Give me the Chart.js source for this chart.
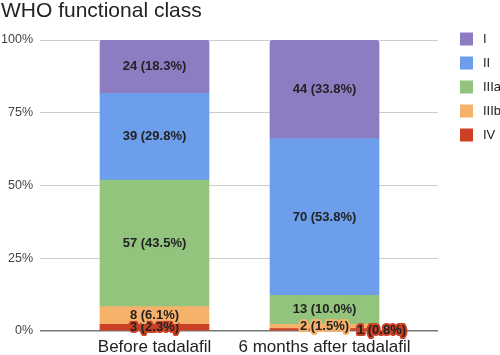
<!DOCTYPE html>
<html>
<head>
<meta charset="utf-8">
<script src="https://cdn.jsdelivr.net/npm/chart.js@4.4.1/dist/chart.umd.min.js"></script>
<style>
  html, body { margin: 0; padding: 0; background: #fff; }
  #wrap { width: 500px; height: 355px; position: relative; }
</style>
</head>
<body>
<div id="wrap"><canvas id="who-chart"></canvas></div>
<script>
/* ---- datos ---- */
const CATEGORIAS = ["Before tadalafil", "6 months after tadalafil"];
const CLASES = ["I", "II", "IIIa", "IIIb", "IV"];
const COLORES = ["#8e7cc3", "#6d9eeb", "#93c47d", "#f6b26b", "#cc4125"];

// conteos por clase (orden de CLASES), una columna por categoria
const N_I    = [24, 44];
const N_II   = [39, 70];
const N_IIIa = [57, 13];
const N_IIIb = [8, 2];
const N_IV   = [3, 1];

// porcentajes tal como aparecen
const P_I    = [18.3, 33.8];
const P_II   = [29.8, 53.8];
const P_IIIa = [43.5, 10.0];
const P_IIIb = [6.1, 1.5];
const P_IV   = [2.3, 0.8];

const Y_TICKS = [0, 25, 50, 75, 100];

const CONTEOS = [N_I, N_II, N_IIIa, N_IIIb, N_IV];
const PCTS = [P_I, P_II, P_IIIa, P_IIIb, P_IV];

const FONT = "'Liberation Sans', Arial, sans-serif";

// desplazamiento de etiquetas que se solapan (clase, categoria) -> px
const LABEL_SHIFT = { "IV|1": { dx: 57, dy: 1 } };

/* datasets: apilado desde abajo, IV primero */
const datasets = [];
for (let i = CLASES.length - 1; i >= 0; i--) {
    datasets.push({
        label: CLASES[i],
        data: PCTS[i].map((p, k) => ({ x: k, y: p })),
        counts: CONTEOS[i],
        backgroundColor: COLORES[i],
        borderWidth: 0,
        borderSkipped: false,
        borderRadius: i === 0 ? { topLeft: 3, topRight: 3, bottomLeft: 0, bottomRight: 0 } : 0,
        barThickness: 109
    });
}

/* etiquetas dentro de los segmentos */
const etiquetasPlugin = {
    id: "etiquetas",
    afterDatasetsDraw(chart) {
        const ctx = chart.ctx;
        ctx.save();
        ctx.font = "bold 13px " + FONT;
        ctx.textAlign = "center";
        ctx.textBaseline = "middle";
        ctx.lineJoin = "round";
        chart.data.datasets.forEach((ds, di) => {
            const meta = chart.getDatasetMeta(di);
            meta.data.forEach((bar, k) => {
                const p = ds.data[k].y;
                const txt = ds.counts[k] + " (" + p.toFixed(1) + "%)";
                const sh = LABEL_SHIFT[ds.label + "|" + k] || { dx: 0, dy: 0 };
                const x = bar.x + sh.dx;
                const y = (bar.y + bar.base) / 2 + sh.dy;
                ctx.strokeStyle = ds.backgroundColor;
                ctx.lineWidth = 4;
                ctx.strokeText(txt, x, y);
                ctx.fillStyle = "#222";
                ctx.fillText(txt, x, y);
            });
        });
        ctx.restore();
    }
};

/* titulo y leyenda */
const marcoPlugin = {
    id: "marco",
    afterDraw(chart) {
        const ctx = chart.ctx;
        ctx.save();
        ctx.fillStyle = "#222";
        ctx.font = "21px " + FONT;
        ctx.textAlign = "left";
        ctx.textBaseline = "alphabetic";
        ctx.fillText("WHO functional class", 1, 17);

        ctx.font = "13px " + FONT;
        ctx.textBaseline = "middle";
        CLASES.forEach((c, i) => {
            const cy = 39 + i * 24;
            ctx.fillStyle = COLORES[i];
            ctx.fillRect(460, cy - 6.5, 13, 13);
            ctx.fillStyle = "#222";
            ctx.fillText(c, 483, cy);
        });
        ctx.restore();
    }
};

new Chart(document.getElementById("who-chart"), {
    type: "bar",
    data: { datasets },
    options: {
        responsive: true,
        maintainAspectRatio: false,
        animation: false,
        layout: { padding: { left: 0, top: 40, right: 62, bottom: 0 } },
        plugins: {
            legend: { display: false },
            tooltip: { enabled: false }
        },
        scales: {
            x: {
                type: "linear",
                stacked: true,
                offset: false,
                min: -0.6735,
                max: 1.6676,
                grid: { display: false, offset: false, tickLength: 0 },
                border: { display: false },
                afterBuildTicks: (axis) => { axis.ticks = CATEGORIAS.map((_, k) => ({ value: k })); },
                afterFit: (scale) => { scale.height = 24; },
                ticks: {
                    autoSkip: false,
                    maxRotation: 0,
                    padding: 6,
                    color: "#222",
                    font: { family: FONT, size: 17 },
                    callback: (v) => CATEGORIAS[v] ?? ""
                }
            },
            y: {
                stacked: true,
                min: 0,
                max: 100,
                afterBuildTicks: (axis) => { axis.ticks = Y_TICKS.map(v => ({ value: v })); },
                afterFit: (scale) => { scale.width = 40; },
                border: { display: false },
                grid: {
                    color: (c) => c.tick && c.tick.value === 0 ? "#777" : "#ccc",
                    lineWidth: (c) => c.tick && c.tick.value === 0 ? 1.5 : 1,
                    drawTicks: false
                },
                ticks: {
                    padding: 7,
                    color: "#444",
                    font: { family: FONT, size: 12.5 },
                    callback: (v) => v + "%"
                }
            }
        }
    },
    plugins: [etiquetasPlugin, marcoPlugin]
});
</script>
</body>
</html>
